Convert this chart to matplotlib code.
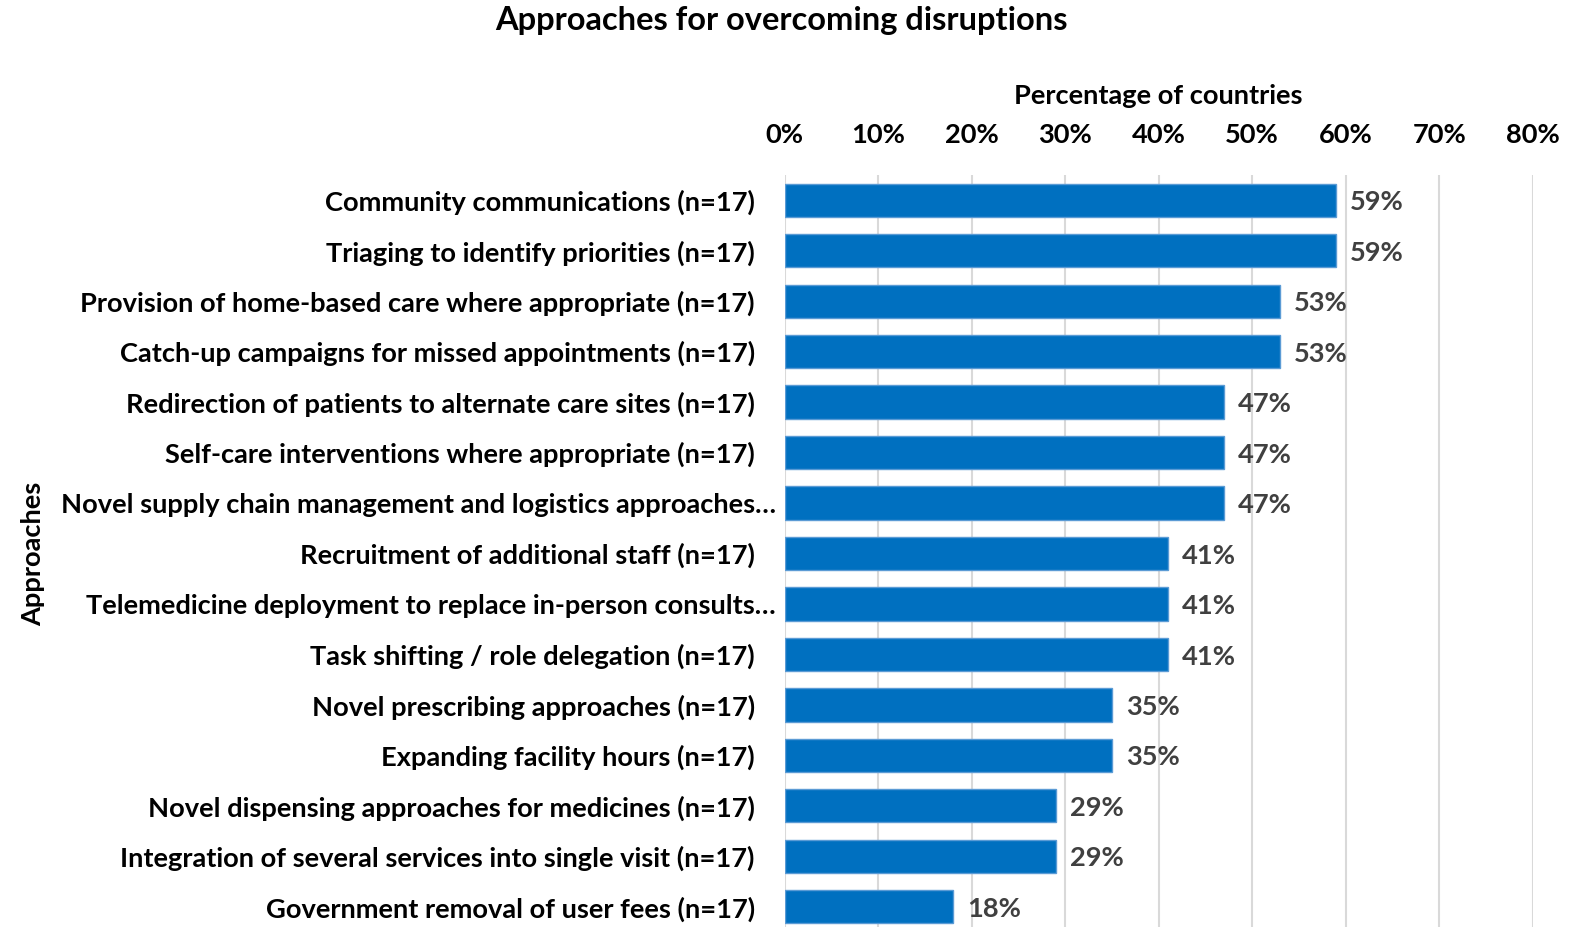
import matplotlib
matplotlib.use("Agg")
import matplotlib.pyplot as plt
import matplotlib.transforms as mtransforms

plt.rcParams['font.family'] = ['Lato', 'DejaVu Sans']
plt.rcParams['font.weight'] = 'bold'

# approaches listed top to bottom, with share of countries (%)
approaches = [
    "Community communications (n=17)",
    "Triaging to identify priorities (n=17)",
    "Provision of home-based care where appropriate (n=17)",
    "Catch-up campaigns for missed appointments (n=17)",
    "Redirection of patients to alternate care sites (n=17)",
    "Self-care interventions where appropriate (n=17)",
    "Novel supply chain management and logistics approaches\u2026",
    "Recruitment of additional staff (n=17)",
    "Telemedicine deployment to replace in-person consults\u2026",
    "Task shifting / role delegation (n=17)",
    "Novel prescribing approaches (n=17)",
    "Expanding facility hours (n=17)",
    "Novel dispensing approaches for medicines (n=17)",
    "Integration of several services into single visit (n=17)",
    "Government removal of user fees (n=17)",
]
percent = [59, 59, 53, 53, 47, 47, 47, 41, 41, 41, 35, 35, 29, 29, 18]
xticks = [0, 10, 20, 30, 40, 50, 60, 70, 80]

FS = 19.6

fig = plt.figure(figsize=(15.85, 9.27), dpi=100)
ax = fig.add_axes([0.495, -0.0054, 0.472, 0.8166])

ypos = list(range(len(approaches)))
ax.barh(ypos, percent, height=0.66, color='#0070C0', edgecolor='#5B9BD5',
        linewidth=1.0, zorder=3)

for y, v in zip(ypos, percent):
    ax.annotate(f"{v}%", (v, y), xytext=(10, -1.5), textcoords='offset points',
                ha='left', va='center', fontsize=FS, fontweight='bold',
                color='#404040')

ax.set_ylim(len(approaches) - 0.5, -0.5)
ax.set_xlim(0, 80)
ax.set_xticks(xticks)
ax.set_xticklabels([f"{t}%" for t in xticks], fontsize=FS, fontweight='bold')
ax.xaxis.tick_top()
ax.xaxis.set_label_position('top')
ax.set_xlabel("Percentage of countries", fontsize=FS, fontweight='bold',
              labelpad=14)
ax.tick_params(axis='x', length=0, pad=20)

ax.set_yticks(ypos)
ax.set_yticklabels(approaches, fontsize=FS, fontweight='bold')
ax.tick_params(axis='y', length=0, pad=21.5)
# truncated labels sit a bit further right
for lbl in ax.get_yticklabels():
    if lbl.get_text().endswith('\u2026'):
        lbl.set_transform(lbl.get_transform() +
                          mtransforms.ScaledTranslation(21 / 100, 0, fig.dpi_scale_trans))

ax.set_ylabel("Approaches", fontsize=FS, fontweight='bold')
ax.yaxis.set_label_coords(-0.989, 0.5)

ax.grid(axis='x', color='#D9D9D9', linewidth=1.5, zorder=0)
for s in ax.spines.values():
    s.set_visible(False)

fig.text(0.493, 0.978, "Approaches for overcoming disruptions", ha='center',
         va='center', fontsize=23.5, fontweight='bold')

fig.savefig("out.png", dpi=100)
